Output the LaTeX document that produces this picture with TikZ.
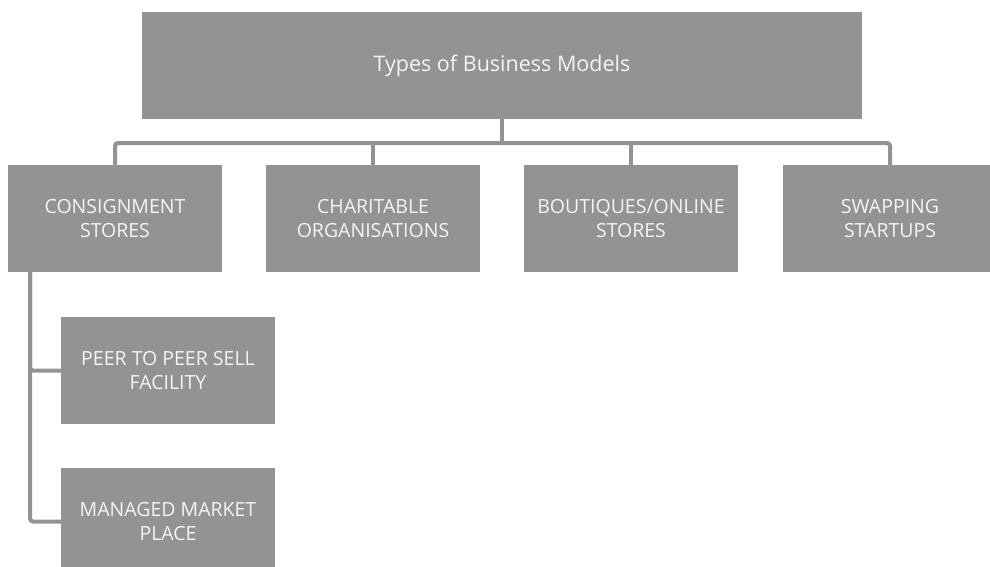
\documentclass[tikz,border=0pt]{standalone}
\usepackage{fontspec}
\setmainfont{Open Sans}
\definecolor{boxgray}{HTML}{939395}
\definecolor{boxtext}{HTML}{F4F4F4}
\tikzset{
    modelbox/.style={fill=boxgray,text=boxtext,minimum width=214pt,minimum height=107pt,
        inner sep=0pt,align=center,font=\fontsize{19.5}{24}\selectfont},
    link/.style={draw=boxgray,line width=4pt,rounded corners=3pt}
}

\begin{document}
\begin{tikzpicture}[x=1pt,y=-1pt]
    % page frame
    \useasboundingbox (0,0) rectangle (990,567);
    \clip (0,0) rectangle (990,567);

    % Root
    \node[modelbox,minimum width=720pt,font=\fontsize{21.5}{26}\selectfont] (root) at (502,65.5) {Types of Business Models};

    % First level
    \node[modelbox] (consign) at (115,218.5) {CONSIGNMENT\\STORES};
    \node[modelbox] (charity) at (373,218.5) {CHARITABLE\\ORGANISATIONS};
    \node[modelbox] (boutique) at (631,218.5) {BOUTIQUES/ONLINE\\STORES};
    \node[modelbox] (swap) at (890,218.5) {SWAPPING\\STARTUPS};

    % Second level
    \node[modelbox] (peer) at (168,370.5) {PEER TO PEER SELL\\FACILITY};
    \node[modelbox] (managed) at (168,521.5) {MANAGED MARKET\\PLACE};

    % Connectors
    \coordinate (bus) at (0,143);
    \coordinate (spine) at (30,0);
    \draw[link] (root.south) -- (root.south |- bus);
    \draw[link] (consign.north) -- (consign.north |- bus) -| (swap.north);
    \draw[link] (charity.north) -- (charity.north |- bus);
    \draw[link] (boutique.north) -- (boutique.north |- bus);
    \draw[link] (consign.south -| spine) |- (peer.west);
    \draw[link] (consign.south -| spine) |- (managed.west);
\end{tikzpicture}
\end{document}
